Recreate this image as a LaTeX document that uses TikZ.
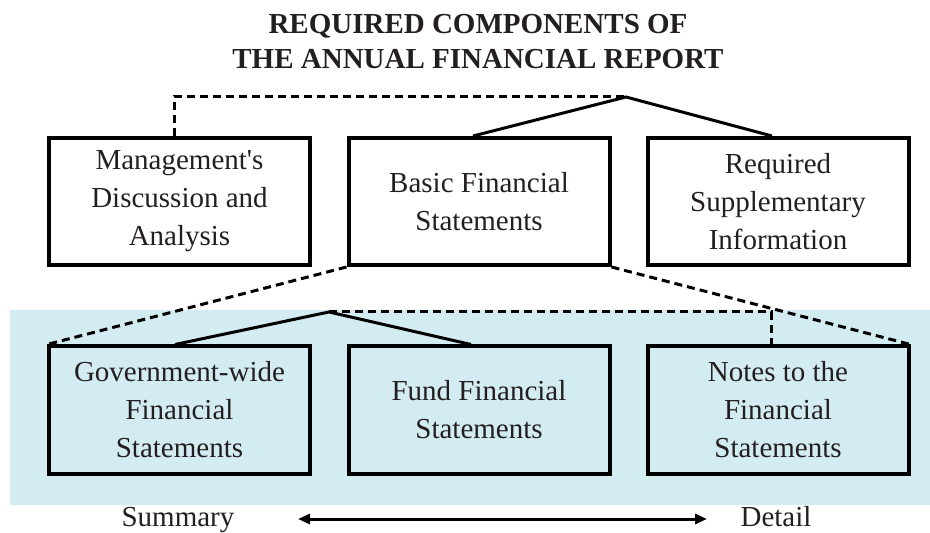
\documentclass[tikz,border=0pt]{standalone}
\usepackage{fontspec}
\setmainfont{Liberation Serif}
\usetikzlibrary{arrows.meta}
\definecolor{bandblue}{RGB}{211, 236, 242}
\definecolor{inkgray}{RGB}{35, 31, 32}

\begin{document}
\begin{tikzpicture}[x=0.5pt, y=-0.5pt,
  compbox/.style={draw=black, line width=2pt, minimum width=130.5pt, minimum height=63.5pt,
    inner sep=0pt, align=center, text=inkgray, font=\fontsize{14.5}{19}\selectfont},
  topbox/.style={compbox, fill=white},
  link/.style={line width=1.5pt},
  dashlink/.style={line width=1.5pt, dash pattern=on 4pt off 2.5pt},
  endlabel/.style={anchor=base, text=inkgray, font=\fontsize{14.5}{19}\selectfont},
]
  \useasboundingbox (0,0) rectangle (930,533);

  % Background band for the basic statements
  \fill[bandblue] (10,310) rectangle (930,505);

  % Title
  \node[align=center, text=inkgray, font=\fontsize{14.5}{17.5}\bfseries] (title) at (478,42)
    {REQUIRED COMPONENTS OF\\THE ANNUAL FINANCIAL REPORT};

  % Top row
  \node[topbox] (mda) at (179.5,201.5) {Management\textquotesingle s\\Discussion and\\Analysis};
  \node[topbox] (bfs) at (479,201.5) {Basic Financial\\Statements};
  \node[topbox] (rsi) at (778,201.5) {Required\\Supplementary\\Information};

  % Bottom row
  \node[compbox] (gws) at (179.5,410) {Government-wide\\Financial\\Statements};
  \node[compbox] (ffs) at (479,410) {Fund Financial\\Statements};
  \node[compbox] (nfs) at (778,410) {Notes to the\\Financial\\Statements};

  % Connectors of the top row
  \coordinate (topapex) at (626,97);
  \draw[dashlink] ([xshift=-2.75pt]mda.north) |- (topapex);
  \draw[link] ([xshift=-3pt]bfs.north) -- (topapex) -- ([xshift=-3pt]rsi.north);

  % Connectors of the bottom row
  \coordinate (botapex) at (329,312);
  \draw[dashlink] (botapex) -| ([xshift=-3.5pt]nfs.north);
  \draw[link] ([xshift=-2.25pt]gws.north) -- (botapex) -- ([xshift=-4pt]ffs.north);

  % Basic statements opened up
  \draw[dashlink] (bfs.south west) -- (gws.north west);
  \draw[dashlink] (bfs.south east) -- (nfs.north east);

  % Summary / detail scale
  \node[endlabel] (summary) at (178,526) {Summary};
  \node[endlabel] (detail) at (776,526) {Detail};
  \draw[link, {Triangle[length=6pt, width=5pt]}-{Triangle[length=6pt, width=5pt]}]
    (298,519) -- (707,519);

\end{tikzpicture}
\end{document}
